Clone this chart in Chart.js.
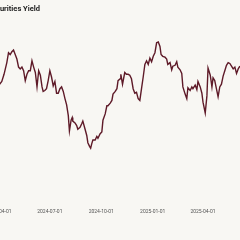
<!DOCTYPE html>
<html>
<head>
<meta charset="utf-8">
<script src="https://cdn.jsdelivr.net/npm/chart.js@4.4.1/dist/chart.umd.min.js"></script>
<style>
  html, body { margin: 0; padding: 0; background: #f8f7f3; }
  #wrap { position: relative; width: 240px; height: 240px; overflow: hidden; background: #f8f7f3; }
  #title {
    position: absolute; right: 200px; top: 5px;
    font: bold 7.5px Roboto, sans-serif; color: #222;
    white-space: nowrap; line-height: 1;
  }
  #chart { position: absolute; left: -40px; top: 0; }
</style>
</head>
<body>
<div id="wrap">
  <canvas id="chart" width="320" height="240"></canvas>
  <div id="title">10-Year Treasury Securities Yield</div>
</div>
<script>
// 10-year yield (percent)
const dates = [
  '2024-04-01', '2024-04-06', '2024-04-10', '2024-04-15', '2024-04-18', '2024-04-21',
  '2024-04-24', '2024-04-27', '2024-04-30', '2024-05-03', '2024-05-06', '2024-05-09',
  '2024-05-12', '2024-05-15', '2024-05-18', '2024-05-21', '2024-05-24', '2024-05-27',
  '2024-05-30', '2024-06-02', '2024-06-05', '2024-06-08', '2024-06-11', '2024-06-14',
  '2024-06-17', '2024-06-19', '2024-06-22', '2024-06-25', '2024-06-28', '2024-07-01',
  '2024-07-04', '2024-07-07', '2024-07-10', '2024-07-13', '2024-07-16', '2024-07-19',
  '2024-07-22', '2024-07-25', '2024-07-28', '2024-07-31', '2024-08-03', '2024-08-05',
  '2024-08-08', '2024-08-10', '2024-08-11', '2024-08-15', '2024-08-18', '2024-08-20',
  '2024-08-24', '2024-08-27', '2024-08-29', '2024-09-02', '2024-09-05', '2024-09-07',
  '2024-09-10', '2024-09-12', '2024-09-14', '2024-09-16', '2024-09-20', '2024-09-23',
  '2024-09-25', '2024-09-29', '2024-10-02', '2024-10-04', '2024-10-08', '2024-10-11',
  '2024-10-13', '2024-10-17', '2024-10-20', '2024-10-22', '2024-10-26', '2024-10-29',
  '2024-10-31', '2024-11-04', '2024-11-05', '2024-11-08', '2024-11-12', '2024-11-15',
  '2024-11-18', '2024-11-21', '2024-11-24', '2024-11-27', '2024-11-30', '2024-12-03',
  '2024-12-06', '2024-12-09', '2024-12-12', '2024-12-15', '2024-12-18', '2024-12-21',
  '2024-12-24', '2024-12-27', '2024-12-30', '2025-01-02', '2025-01-05', '2025-01-08',
  '2025-01-11', '2025-01-14', '2025-01-16', '2025-01-19', '2025-01-23', '2025-01-26',
  '2025-01-28', '2025-02-01', '2025-02-04', '2025-02-06', '2025-02-10', '2025-02-13',
  '2025-02-15', '2025-02-19', '2025-02-22', '2025-02-24', '2025-02-28', '2025-03-03',
  '2025-03-05', '2025-03-09', '2025-03-12', '2025-03-14', '2025-03-18', '2025-03-21',
  '2025-03-23', '2025-03-27', '2025-03-30', '2025-04-01', '2025-04-05', '2025-04-08',
  '2025-04-10', '2025-04-14', '2025-04-17', '2025-04-19', '2025-04-22', '2025-04-26',
  '2025-04-28', '2025-05-01', '2025-05-04', '2025-05-07', '2025-05-10', '2025-05-13',
  '2025-05-16', '2025-05-19', '2025-05-22', '2025-05-25', '2025-05-28', '2025-05-31',
  '2025-06-03', '2025-06-06'
];

const yieldPct = [
  4.31, 4.35, 4.43, 4.56, 4.67, 4.65,
  4.68, 4.70, 4.65, 4.60, 4.51, 4.49,
  4.51, 4.47, 4.36, 4.43, 4.47, 4.47,
  4.58, 4.51, 4.45, 4.29, 4.47, 4.42,
  4.29, 4.24, 4.25, 4.27, 4.36, 4.47,
  4.40, 4.30, 4.35, 4.22, 4.22, 4.27,
  4.29, 4.24, 4.16, 4.09, 3.97, 3.80,
  3.92, 3.95, 3.91, 3.89, 3.86, 3.82,
  3.84, 3.88, 3.91, 3.82, 3.75, 3.67,
  3.63, 3.61, 3.66, 3.70, 3.70, 3.74,
  3.72, 3.77, 3.79, 3.92, 3.99, 4.08,
  4.08, 4.11, 4.14, 4.21, 4.24, 4.27,
  4.36, 4.38, 4.43, 4.32, 4.45, 4.43,
  4.43, 4.42, 4.38, 4.27, 4.22, 4.23,
  4.16, 4.14, 4.27, 4.40, 4.54, 4.58,
  4.54, 4.61, 4.57, 4.63, 4.67, 4.78,
  4.79, 4.74, 4.65, 4.63, 4.62, 4.60,
  4.54, 4.56, 4.48, 4.52, 4.53, 4.57,
  4.51, 4.48, 4.44, 4.29, 4.21, 4.16,
  4.28, 4.25, 4.29, 4.27, 4.31, 4.26,
  4.35, 4.29, 4.22, 4.12, 4.00, 4.19,
  4.50, 4.42, 4.29, 4.39, 4.36, 4.24,
  4.18, 4.29, 4.32, 4.41, 4.47, 4.53,
  4.56, 4.55, 4.52, 4.49, 4.51, 4.44,
  4.49, 4.52
];

const tickDates = ['2024-01-01', '2024-04-01', '2024-07-01', '2024-10-01', '2025-01-01', '2025-04-01', '2025-07-01'];

const DAY0 = Date.UTC(2024, 3, 1);
const toDay = (s) => {
  const [y, m, d] = s.split('-').map(Number);
  return Math.round((Date.UTC(y, m - 1, d) - DAY0) / 86400000);
};

const points = dates.map((d, i) => ({ x: toDay(d), y: yieldPct[i] }));
const tickLabels = {};
tickDates.forEach((d) => { tickLabels[toDay(d)] = d; });

new Chart(document.getElementById('chart'), {
  type: 'line',
  data: {
    datasets: [
      {
        data: points,
        borderColor: '#5e1a28',
        borderWidth: 1.4,
        pointRadius: 0,
        tension: 0,
        fill: false,
      },
    ],
  },
  options: {
    responsive: false,
    animation: false,
    layout: { padding: { top: 23, bottom: 19, left: 0, right: 0 } },
    plugins: {
      legend: { display: false },
      tooltip: { enabled: false },
      title: { display: false },
    },
    scales: {
      x: {
        type: 'linear',
        min: -69.78,
        max: 502.77,
        grid: { display: false, drawTicks: false },
        border: { display: false },
        afterBuildTicks: (axis) => {
          axis.ticks = tickDates
            .map((d) => ({ value: toDay(d) }))
            .filter((t) => t.value >= axis.min && t.value <= axis.max);
        },
        ticks: {
          autoSkip: false,
          maxRotation: 0,
          padding: 6,
          color: '#555',
          font: { family: 'Roboto, sans-serif', size: 5 },
          callback: (v) => tickLabels[v] || '',
        },
      },
      y: {
        display: false,
        min: 3.0,
        max: 5.0,
      },
    },
  },
});
</script>
</body>
</html>
